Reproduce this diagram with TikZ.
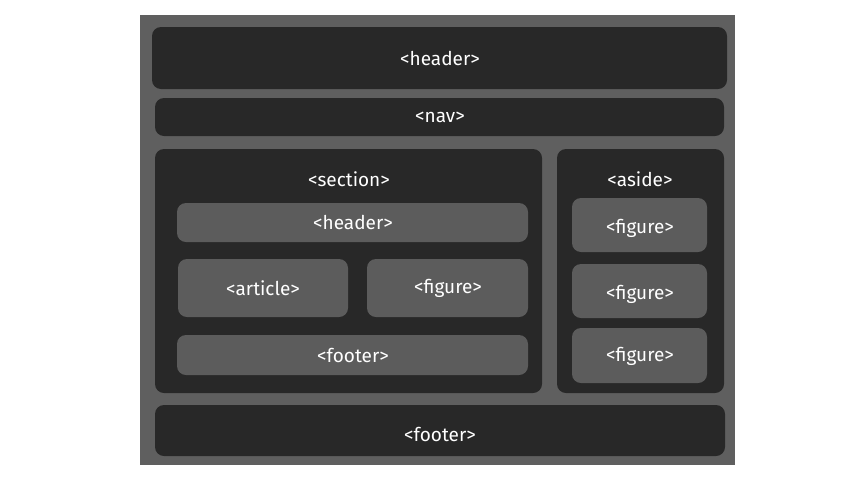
\documentclass[tikz,border=0pt]{standalone}
\usepackage{fontspec}
\setmainfont{Fira Sans}
\definecolor{bg}{HTML}{5F5F5F}
\definecolor{dk}{HTML}{282828}
\definecolor{lt}{HTML}{5C5C5C}
\begin{document}
\begin{tikzpicture}[x=1pt,y=-1pt,
  dbox/.style={fill=dk,rounded corners=9pt},
  lbox/.style={fill=lt,rounded corners=9pt},
  lab/.style={text=white,font=\fontsize{19}{22}\selectfont}]
\useasboundingbox (0,0) rectangle (865,480);
\fill[white] (0,0) rectangle (865,480);
\fill[bg] (140,15) rectangle (735,465);
\path[dbox] (152,27) rectangle (727,89);
\node[lab] (h) at (440,58) {<header>};
\path[dbox] (155,98) rectangle (724,136);
\node[lab] (n) at (440,117) {<nav>};
\path[dbox] (155,149) rectangle (542,393);
\node[lab] (s) at (349,179) {<section>};
\path[lbox] (177,203) rectangle (528,242);
\node[lab] (sh) at (353,222) {<header>};
\path[lbox] (178,259) rectangle (348,317);
\node[lab] (a) at (263,288) {<article>};
\path[lbox] (367,259) rectangle (528,317);
\node[lab] (sf) at (448,288) {<figure>};
\path[lbox] (177,335) rectangle (528,375);
\node[lab] (sfo) at (353,355) {<footer>};
\path[dbox] (557,149) rectangle (724,393);
\node[lab] (as) at (640,179) {<aside>};
\path[lbox] (572,198) rectangle (707,252);
\node[lab] (f1) at (640,228) {<figure>};
\path[lbox] (572,264) rectangle (707,318);
\node[lab] (f2) at (640,294) {<figure>};
\path[lbox] (572,328) rectangle (707,383);
\node[lab] (f3) at (640,356) {<figure>};
\path[dbox] (155,405) rectangle (725,456);
\node[lab] (fo) at (440,434) {<footer>};
\end{tikzpicture}
\end{document}
